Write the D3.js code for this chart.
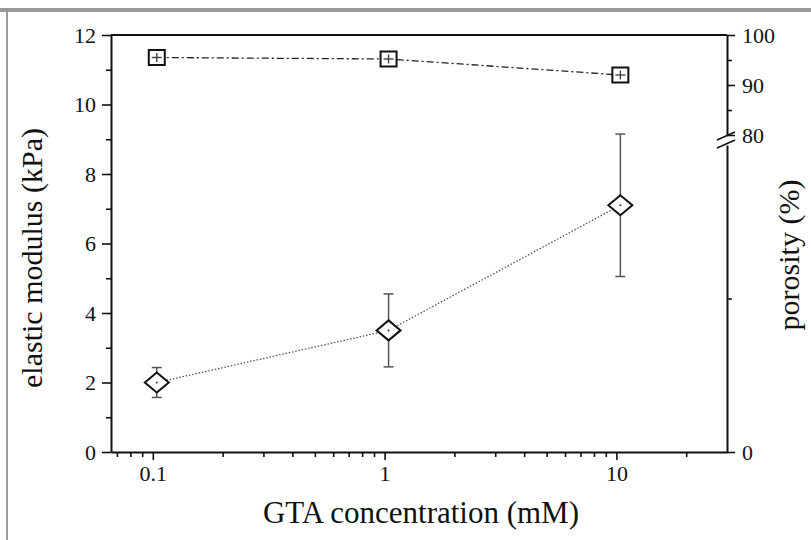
<!DOCTYPE html>
<meta charset="utf-8">
<script src="https://d3js.org/d3.v7.min.js"></script>
<style>
  body { margin: 0; background: #fff; }
  text { font-family: "Liberation Serif", "Times New Roman", serif; }
</style>
<div id="chart"></div>
<script>

// GTA concentration (mM), slightly offset from the decades as in the figure
var conc = [0.104, 1.04, 10.4];
// elastic modulus (kPa) with error
var modulus = [2.0, 3.5, 7.1];
var modulusErr = [0.43, 1.05, 2.05];
// porosity (%) with error
var porosity = [95.5, 95.2, 92.0];
var porosityErr = [0.9, 0.9, 0.9];

var xMajor = [0.1, 1, 10];
var yMajor = [0, 2, 4, 6, 8, 10, 12];
var porUpperMajor = [80, 90, 100];
var porLowerMajor = [0];

var W = 811, H = 540;
var margin = {top: 35, right: 84, bottom: 88, left: 111},
    width = W - margin.left - margin.right,
    height = H - margin.top - margin.bottom;

var svg = d3.select("#chart")
  .append("svg")
    .attr("width", W)
    .attr("height", H);

// grey frame of the original picture
svg.append("rect").attr("x", 0).attr("y", 8).attr("width", W).attr("height", 4).attr("fill", "#9a9a9a");
svg.append("rect").attr("x", 6).attr("y", 8).attr("width", 2).attr("height", H - 8).attr("fill", "#9a9a9a");

var g = svg.append("g")
  .attr("transform", "translate(" + margin.left + "," + margin.top + ")");

// scales
var x = d3.scaleLog().domain([0.066, 30]).range([0, width]);
var y = d3.scaleLinear().domain([0, 12]).range([height, 0]);
// right axis is broken: 80-100 on top, 0-80 below the break
var breakTop = 100, breakBottom = 110;
var yPor = d3.scaleLinear().domain([80, 100]).range([breakTop, 0]);
var yPorLow = d3.scaleLinear().domain([0, 80]).range([height, breakBottom]);

// minor ticks for the log axis
var xMinor = [];
[0.01, 0.1, 1, 10].forEach(function(d) {
  for (var k = 2; k <= 9; k++) {
    var v = d * k;
    if (v > 0.066 && v < 30) xMinor.push(v);
  }
});
var yMinor = [1, 3, 5, 7, 9, 11];

function styleAxis(sel) {
  sel.selectAll("path").attr("stroke", "#111").attr("stroke-width", 2);
  sel.selectAll("line").attr("stroke", "#111").attr("stroke-width", 1.6);
  sel.selectAll("text").attr("fill", "#111").style("font-size", "22px")
    .style("font-family", "'Liberation Serif', 'Times New Roman', serif");
}

// top frame line
g.append("line").attr("x1", 0).attr("x2", width).attr("y1", 0).attr("y2", 0)
  .attr("stroke", "#111").attr("stroke-width", 2);

// X axis
g.append("g")
  .attr("transform", "translate(0," + height + ")")
  .call(d3.axisBottom(x).tickValues(xMinor).tickSize(5).tickFormat(""))
  .call(function(s) { s.select("path").remove(); })
  .call(styleAxis);
g.append("g")
  .attr("transform", "translate(0," + height + ")")
  .call(d3.axisBottom(x).tickValues(xMajor).tickSize(8).tickSizeOuter(0).tickPadding(5)
        .tickFormat(function(d) { return d3.format("")(d); }))
  .call(styleAxis);

// Y axis left
g.append("g")
  .call(d3.axisLeft(y).tickValues(yMinor).tickSize(5).tickFormat(""))
  .call(function(s) { s.select("path").remove(); })
  .call(styleAxis);
g.append("g")
  .call(d3.axisLeft(y).tickValues(yMajor).tickSize(9).tickSizeOuter(0).tickPadding(6))
  .call(styleAxis);

// Y axis right, upper segment
var right = g.append("g").attr("transform", "translate(" + width + ",0)");
right.append("g")
  .call(d3.axisRight(yPor).tickValues([85, 95]).tickSize(5).tickFormat(""))
  .call(function(s) { s.select("path").remove(); })
  .call(styleAxis);
right.append("g")
  .call(d3.axisRight(yPor).tickValues(porUpperMajor).tickSize(8).tickSizeOuter(0).tickPadding(7))
  .call(styleAxis);
// lower segment
right.append("g")
  .call(d3.axisRight(yPorLow).tickValues([40]).tickSize(5).tickFormat(""))
  .call(function(s) { s.select("path").remove(); })
  .call(styleAxis);
right.append("g")
  .call(d3.axisRight(yPorLow).tickValues(porLowerMajor).tickSize(8).tickSizeOuter(0).tickPadding(7))
  .call(styleAxis);

// break marks
right.append("rect").attr("x", -4).attr("y", breakTop + 2).attr("width", 8).attr("height", breakBottom - breakTop - 4)
  .attr("fill", "#fff");
[breakTop + 1, breakBottom - 1].forEach(function(yy) {
  right.append("line")
    .attr("x1", -10).attr("y1", yy + 4).attr("x2", 8).attr("y2", yy - 4)
    .attr("stroke", "#111").attr("stroke-width", 1.6);
});

// elastic modulus series
var mod = conc.map(function(c, i) { return {x: c, y: modulus[i], e: modulusErr[i]}; });
g.append("path")
  .datum(mod)
  .attr("fill", "none")
  .attr("stroke", "#555")
  .attr("stroke-width", 1.3)
  .attr("stroke-dasharray", "1.5,1.8")
  .attr("d", d3.line().x(function(d) { return x(d.x); }).y(function(d) { return y(d.y); }));

var eb = g.append("g").attr("stroke", "#555").attr("stroke-width", 1.5);
mod.forEach(function(d) {
  var cx = x(d.x), t = y(d.y + d.e), b = y(d.y - d.e);
  eb.append("line").attr("x1", cx).attr("x2", cx).attr("y1", t).attr("y2", b);
  eb.append("line").attr("x1", cx - 5).attr("x2", cx + 5).attr("y1", t).attr("y2", t);
  eb.append("line").attr("x1", cx - 5).attr("x2", cx + 5).attr("y1", b).attr("y2", b);
});

g.selectAll(".diamond")
  .data(mod)
  .enter()
  .append("path")
    .attr("class", "diamond")
    .attr("transform", function(d) { return "translate(" + x(d.x) + "," + y(d.y) + ")"; })
    .attr("d", "M0,-10L12,0L0,10L-12,0Z")
    .attr("fill", "#fff")
    .attr("stroke", "#111")
    .attr("stroke-width", 2);
g.selectAll(".ddot")
  .data(mod)
  .enter()
  .append("circle")
    .attr("cx", function(d) { return x(d.x); })
    .attr("cy", function(d) { return y(d.y); })
    .attr("r", 1)
    .attr("fill", "#333");

// porosity series
var por = conc.map(function(c, i) { return {x: c, y: porosity[i], e: porosityErr[i]}; });
g.append("path")
  .datum(por)
  .attr("fill", "none")
  .attr("stroke", "#222")
  .attr("stroke-width", 1.3)
  .attr("stroke-dasharray", "7,3,2,3")
  .attr("d", d3.line().x(function(d) { return x(d.x); }).y(function(d) { return yPor(d.y); }));

g.selectAll(".square")
  .data(por)
  .enter()
  .append("rect")
    .attr("class", "square")
    .attr("x", function(d) { return x(d.x) - 8; })
    .attr("y", function(d) { return yPor(d.y) - 7.5; })
    .attr("width", 16)
    .attr("height", 15)
    .attr("fill", "#fff")
    .attr("stroke", "#111")
    .attr("stroke-width", 2);

var eb2 = g.append("g").attr("stroke", "#444").attr("stroke-width", 1.4);
por.forEach(function(d) {
  var cx = x(d.x), t = yPor(d.y + d.e), b = yPor(d.y - d.e), c = yPor(d.y);
  eb2.append("line").attr("x1", cx).attr("x2", cx).attr("y1", t).attr("y2", b);
  eb2.append("line").attr("x1", cx - 5).attr("x2", cx + 5).attr("y1", c).attr("y2", c);
});

// axis titles
svg.append("text")
  .attr("x", margin.left + width / 2 + 2)
  .attr("y", 523)
  .attr("text-anchor", "middle")
  .style("font-size", "31px")
  .attr("fill", "#111")
  .text("GTA concentration (mM)");

svg.append("text")
  .attr("transform", "translate(42," + (margin.top + 223) + ")rotate(-90)")
  .attr("text-anchor", "middle")
  .style("font-size", "30px")
  .attr("fill", "#111")
  .text("elastic modulus (kPa)");

svg.append("text")
  .attr("transform", "translate(799," + (margin.top + 220) + ")rotate(-90)")
  .attr("text-anchor", "middle")
  .style("font-size", "30px")
  .attr("fill", "#111")
  .text("porosity (%)");

</script>
